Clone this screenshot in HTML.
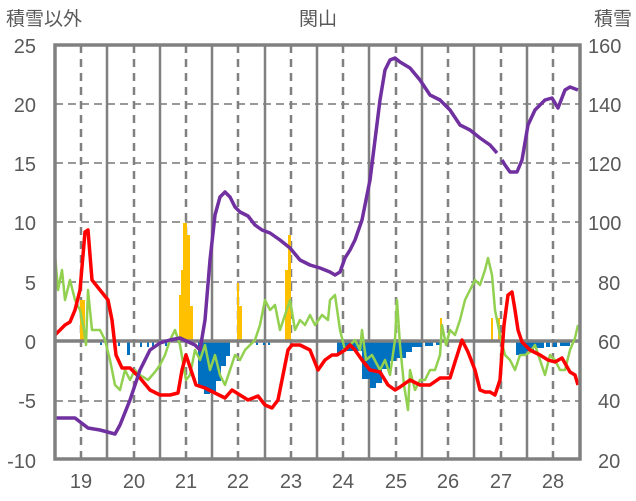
<!DOCTYPE html>
<html><head><meta charset="utf-8"><style>
html,body{margin:0;padding:0;background:#fff;}
svg{display:block;font-family:"Liberation Sans","Noto Sans CJK JP",sans-serif;}
</style></head><body>
<svg width="636" height="501" viewBox="0 0 636 501">
<rect width="636" height="501" fill="#fff"/>
<!-- horizontal dashed grid -->
<g stroke="#999" stroke-width="2" stroke-dasharray="8,5">
<line x1="55" y1="104" x2="580" y2="104"/>
<line x1="55" y1="163" x2="580" y2="163"/>
<line x1="55" y1="222" x2="580" y2="222"/>
<line x1="55" y1="282" x2="580" y2="282"/>
<line x1="55" y1="401" x2="580" y2="401"/>
</g>
<!-- vertical solid -->
<g stroke="#808080" stroke-width="2.5">
<line x1="107" y1="45" x2="107" y2="460"/><line x1="160" y1="45" x2="160" y2="460"/>
<line x1="212" y1="45" x2="212" y2="460"/><line x1="265" y1="45" x2="265" y2="460"/>
<line x1="317" y1="45" x2="317" y2="460"/><line x1="369" y1="45" x2="369" y2="460"/>
<line x1="422" y1="45" x2="422" y2="460"/><line x1="474" y1="45" x2="474" y2="460"/>
<line x1="527" y1="45" x2="527" y2="460"/>
</g>
<g stroke="#808080" stroke-width="2.5" stroke-dasharray="8,6">
<line x1="81" y1="45" x2="81" y2="460"/><line x1="134" y1="45" x2="134" y2="460"/>
<line x1="186" y1="45" x2="186" y2="460"/><line x1="238" y1="45" x2="238" y2="460"/>
<line x1="291" y1="45" x2="291" y2="460"/><line x1="343" y1="45" x2="343" y2="460"/>
<line x1="396" y1="45" x2="396" y2="460"/><line x1="448" y1="45" x2="448" y2="460"/>
<line x1="501" y1="45" x2="501" y2="460"/><line x1="553" y1="45" x2="553" y2="460"/>
</g>
<!-- yellow bars -->
<g fill="#FFC000">
<rect x="80" y="300" width="5" height="41"/>
<rect x="179" y="295" width="3" height="46"/><rect x="181" y="270" width="2" height="71"/>
<rect x="183" y="223" width="4" height="118"/><rect x="187" y="235" width="3" height="106"/><rect x="190" y="306" width="3" height="35"/>
<rect x="237" y="283" width="2" height="58"/><rect x="239" y="306" width="3" height="35"/>
<rect x="285" y="270" width="3" height="71"/><rect x="288" y="235" width="3" height="106"/>
<rect x="440" y="318" width="2" height="23"/>
<rect x="491" y="318" width="2" height="23"/><rect x="498" y="318" width="2" height="23"/>
</g>
<!-- blue bars -->
<g fill="#0070C0">
<rect x="100" y="341" width="2" height="4"/><rect x="118" y="341" width="2" height="5"/>
<rect x="127" y="341" width="3" height="14"/><rect x="140" y="341" width="2" height="6"/><rect x="147" y="341" width="2" height="6"/>
<rect x="152" y="341" width="2" height="6"/><rect x="165" y="341" width="2" height="5"/>
<rect x="198" y="341" width="6" height="45"/><rect x="204" y="341" width="6" height="53"/><rect x="210" y="341" width="6" height="52"/>
<rect x="216" y="341" width="5" height="40"/><rect x="221" y="341" width="5" height="25"/><rect x="226" y="341" width="4" height="15"/>
<rect x="250" y="341" width="2" height="4"/><rect x="256" y="341" width="2" height="4"/><rect x="263" y="341" width="2" height="4"/><rect x="268" y="341" width="2" height="4"/>
<rect x="337" y="341" width="5" height="12"/><rect x="342" y="341" width="5" height="8"/><rect x="347" y="341" width="15" height="10"/>
<rect x="362" y="341" width="8" height="38"/><rect x="370" y="341" width="6" height="47"/><rect x="376" y="341" width="6" height="42"/>
<rect x="382" y="341" width="8" height="28"/><rect x="390" y="341" width="6" height="20"/><rect x="396" y="341" width="10" height="17"/>
<rect x="406" y="341" width="6" height="11"/><rect x="412" y="341" width="10" height="6"/><rect x="425" y="341" width="8" height="5"/><rect x="436" y="341" width="4" height="4"/>
<rect x="516" y="341" width="10" height="14"/><rect x="526" y="341" width="8" height="10"/><rect x="534" y="341" width="10" height="7"/>
<rect x="546" y="341" width="4" height="6"/><rect x="553" y="341" width="4" height="6"/><rect x="560" y="341" width="10" height="5"/>
</g>
<!-- zero line -->
<line x1="55" y1="341" x2="580" y2="341" stroke="#808080" stroke-width="3.5"/>
<!-- green -->
<polyline fill="none" stroke="#92D050" stroke-width="2.5" stroke-linejoin="round" points="55,255 58,290 62,270 65,300 70,280 75,300 80,310 84,330 86,345 88,290 92,330 100,330 105,340 110,360 115,385 120,390 125,370 130,380 135,370 140,375 148,380 155,372 160,365 165,355 170,340 175,330 180,345 186,380 190,375 195,350 200,360 205,345 210,370 215,355 220,375 225,385 230,370 235,355 240,360 245,350 250,345 255,340 260,325 265,300 270,310 275,305 280,330 285,315 290,300 295,330 300,320 305,325 310,315 315,325 322,315 328,320 330,300 335,295 340,330 345,350 350,345 355,340 360,350 362,330 366,360 372,355 380,370 385,360 390,375 395,340 397,300 400,345 404,385 408,410 410,370 415,390 420,380 425,380 430,370 435,370 440,355 442,325 446,345 450,330 455,335 460,320 465,300 470,290 475,280 480,285 485,270 488,258 492,275 495,310 500,335 505,355 510,360 515,370 520,355 525,355 530,352 535,345 540,360 545,375 550,355 555,360 560,370 565,370 570,350 575,338 578,325"/>
<!-- red -->
<polyline fill="none" stroke="#FF0000" stroke-width="3.5" stroke-linejoin="round" points="55,335 60,330 65,325 70,322 75,310 80,290 85,232 88,230 92,280 100,290 108,300 112,320 116,355 122,368 130,368 140,378 150,390 160,395 170,395 178,393 182,370 186,355 190,367 196,385 205,388 215,393 225,398 232,390 240,395 248,400 258,396 265,405 272,408 278,400 283,375 288,350 292,345 300,345 310,350 318,370 325,360 332,355 337,355 345,350 350,345 355,350 362,360 370,370 380,372 388,385 395,390 400,387 410,380 420,385 430,385 440,378 450,378 455,362 462,340 468,352 475,370 480,390 485,392 490,392 495,395 500,380 504,325 508,295 512,292 515,310 518,330 522,342 530,350 540,355 548,360 555,362 562,358 570,372 575,375 578,385"/>
<!-- purple -->
<polyline fill="none" stroke="#7030A0" stroke-width="3.5" stroke-linejoin="round" points="55,418 75,418 88,428 100,430 115,434 120,425 130,400 140,370 150,350 160,343 170,340 180,338 195,345 200,350 205,320 210,260 215,215 220,197 225,192 230,197 235,207 240,212 248,216 255,225 262,230 270,233 280,240 290,248 300,260 310,265 320,268 330,272 335,275 340,272 345,258 350,250 355,240 362,220 370,180 375,140 380,100 385,70 390,60 395,58 400,62 410,68 420,80 430,95 440,100 450,110 460,125 470,130 480,138 490,145 497,153"/>
<polyline fill="none" stroke="#7030A0" stroke-width="3.5" stroke-linejoin="round" points="502,160 505,165 510,172 517,172 522,160 528,125 535,110 545,100 552,98 558,108 565,90 570,87 578,90"/>
<!-- frame -->
<rect x="55" y="45" width="525" height="414" fill="none" stroke="#808080" stroke-width="3.5"/>
<!-- labels -->
<g fill="#595959" font-size="20">
<text x="6" y="25" font-size="19">積雪以外</text>
<text x="318" y="25" text-anchor="middle" font-size="19">関山</text>
<text x="632" y="25" text-anchor="end" font-size="19">積雪</text>
<g text-anchor="end">
<text x="36" y="53">25</text><text x="36" y="112">20</text><text x="36" y="171">15</text>
<text x="36" y="230">10</text><text x="36" y="290">5</text><text x="36" y="349">0</text>
<text x="36" y="408">-5</text><text x="36" y="468">-10</text>
</g>
<text x="588" y="53">160</text><text x="588" y="112">140</text><text x="588" y="171">120</text>
<text x="588" y="230">100</text><text x="598" y="290">80</text><text x="598" y="349">60</text>
<text x="598" y="408">40</text><text x="598" y="468">20</text>
<g text-anchor="middle">
<text x="81" y="488">19</text><text x="134" y="488">20</text><text x="186" y="488">21</text>
<text x="238" y="488">22</text><text x="291" y="488">23</text><text x="343" y="488">24</text>
<text x="396" y="488">25</text><text x="448" y="488">26</text><text x="501" y="488">27</text><text x="553" y="488">28</text>
</g>
</g>
</svg>
</body></html>
